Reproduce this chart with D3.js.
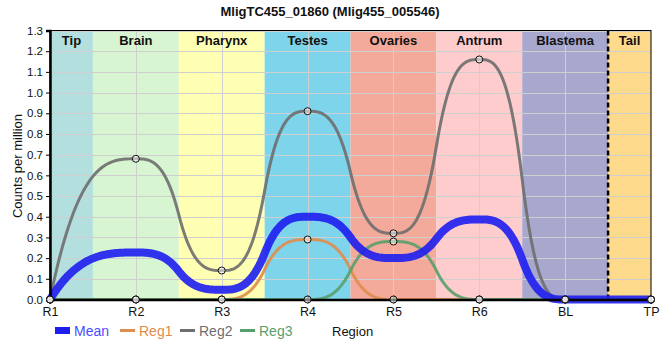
<!DOCTYPE html>
<html><head><meta charset="utf-8">
<script src="https://cdn.jsdelivr.net/npm/d3@7"></script>
<style>body{margin:0;background:#fff}svg{display:block;font-family:"Liberation Sans",Arial,sans-serif}</style>
</head><body><svg id="c" width="660" height="360"></svg>
<script>
const title = "MligTC455_01860 (Mlig455_005546)";
const categories = ["R1","R2","R3","R4","R5","R6","BL","TP"];
const meanValues = [0, 0.227, 0.047, 0.40, 0.20, 0.387, 0, 0];
const reg1Values = [0, 0, 0, 0.29, 0, 0, 0, 0];
const reg2Values = [0, 0.68, 0.14, 0.91, 0.32, 1.16, 0, 0];
const reg3Values = [0, 0, 0, 0, 0.28, 0, 0, 0];
const yTicks = [0,0.1,0.2,0.3,0.4,0.5,0.6,0.7,0.8,0.9,1.0,1.1,1.2,1.3];
const bandNames = ["Tip","Brain","Pharynx","Testes","Ovaries","Antrum","Blastema","Tail"];
const bandStarts = [0, 0.5, 1.5, 2.5, 3.5, 4.5, 5.5, 6.5];
const bandEnds = [0.5, 1.5, 2.5, 3.5, 4.5, 5.5, 6.5, 7];
const bandColors = ["#b3e0de","#d7f5d0","#ffffb4","#7dd4eb","#f4aa9b","#fecccd","#a8a8ce","#feda8c"];
const seriesNames = ["Reg1","Reg2","Reg3"];
const seriesColors = ["#e08c4c","#6e6e6e","#5a9e6c"];
const meanColor = "#1e1ef0";

// custom d3 curve: eased (cubic in-out) transitions between successive points
function EaseCurve(context) { this._context = context; }
EaseCurve.prototype = {
  areaStart() { this._line = 0; }, areaEnd() { this._line = NaN; },
  lineStart() { this._xs = []; this._ys = []; },
  point(x, y) { this._xs.push(+x); this._ys.push(+y); },
  lineEnd() {
    const xs = this._xs, ys = this._ys, n = xs.length, c = this._context;
    if (!n) return;
    c.moveTo(xs[0], ys[0]);
    const steps = 48;
    for (let i = 0; i < n - 1; i++) {
      const ease = (i === 0 && n > 2) ? d3.easeCubicOut : (i === n - 2 && n > 2) ? d3.easeCubicIn : d3.easeCubicInOut;
      for (let k = 1; k <= steps; k++) {
        const t = k / steps;
        c.lineTo(xs[i] + (xs[i+1] - xs[i]) * t, ys[i] + (ys[i+1] - ys[i]) * ease(t));
      }
    }
  }
};
const curveEase = ctx => new EaseCurve(ctx);

const svg = d3.select("#c");
const L = 50, R = 651, T = 30.5, B = 299.5;
const x = d3.scaleLinear().domain([0, 7]).range([L, R]);
const y = d3.scaleLinear().domain([0, 1.3]).range([B, T]);

// bands
svg.append("g").selectAll("rect").data(bandNames).join("rect")
  .attr("x", (d,i) => x(bandStarts[i])).attr("y", T)
  .attr("width", (d,i) => x(bandEnds[i]) - x(bandStarts[i])).attr("height", B - T)
  .attr("fill", (d,i) => bandColors[i]);

// grid
const grid = svg.append("g").attr("stroke", "#cfcfcf").attr("stroke-width", 1);
grid.selectAll("line.h").data(yTicks.slice(1)).join("line").attr("class","h")
  .attr("x1", L).attr("x2", R).attr("y1", d => Math.round(y(d)) + 0.5).attr("y2", d => Math.round(y(d)) + 0.5);
grid.selectAll("line.v").data(categories.slice(1, -1)).join("line").attr("class","v")
  .attr("y1", T).attr("y2", B).attr("x1", (d,i) => Math.round(x(i+1)) + 0.5).attr("x2", (d,i) => Math.round(x(i+1)) + 0.5);

// band labels
svg.append("g").selectAll("text").data(bandNames).join("text")
  .attr("x", (d,i) => (x(bandStarts[i]) + x(bandEnds[i])) / 2).attr("y", 45)
  .attr("text-anchor", "middle").attr("font-size", 13).attr("font-weight", "bold").attr("fill", "#111")
  .text(d => d);

// dashed separator
svg.append("line").attr("x1", x(6.5)).attr("x2", x(6.5)).attr("y1", T).attr("y2", B)
  .attr("stroke", "#000").attr("stroke-width", 2.5).attr("stroke-dasharray", "5,3");

// curves
const line = d3.line().x((d,i) => x(i)).y(d => y(d)).curve(curveEase);
const regs = [reg1Values, reg2Values, reg3Values];
regs.forEach((vals, k) => {
  svg.append("path").attr("d", line(vals)).attr("fill", "none")
    .attr("stroke", seriesColors[k]).attr("stroke-width", 3).attr("stroke-opacity", 0.9);
});
svg.append("path").attr("d", line(meanValues)).attr("fill", "none")
  .attr("stroke", meanColor).attr("stroke-width", 8).attr("stroke-opacity", 0.9);

// border
svg.append("rect").attr("x", L).attr("y", T).attr("width", R - L).attr("height", B - T)
  .attr("fill", "none").attr("stroke", "#000").attr("stroke-width", 1);

// axes
const yAxis = d3.axisLeft(y).tickValues(yTicks).tickFormat(d3.format(".1f")).tickSize(4).tickPadding(3);
const gy = svg.append("g").attr("transform", `translate(${L},0)`).call(yAxis);
gy.select(".domain").attr("stroke-width", 2.5);
gy.selectAll("text").attr("font-size", 11.5).attr("fill", "#111").style("font-family", "Liberation Sans, Arial");

const xAxis = d3.axisBottom(x).tickValues(d3.range(categories.length)).tickFormat(i => categories[i]).tickSize(4).tickPadding(4);
const gx = svg.append("g").attr("transform", `translate(0,${B})`).call(xAxis);
gx.select(".domain").attr("stroke-width", 2.5);
gx.selectAll(".tick line").attr("y1", -4);
gx.selectAll("text").attr("font-size", 12.5).attr("fill", "#111").style("font-family", "Liberation Sans, Arial");

// points
regs.forEach((vals, k) => {
  svg.append("g").selectAll("circle").data(vals).join("circle")
    .attr("cx", (d,i) => x(i)).attr("cy", d => y(d)).attr("r", 3.5)
    .attr("fill", "#fff").attr("fill-opacity", 0.5).attr("stroke", "#111").attr("stroke-width", 1);
});

// title
svg.append("text").attr("x", 330).attr("y", 16).attr("text-anchor", "middle")
  .attr("font-size", 13).attr("font-weight", "bold").attr("fill", "#111").text(title);

// y label
svg.append("text").attr("transform", "translate(22,166) rotate(-90)").attr("text-anchor", "middle")
  .attr("font-size", 13).attr("fill", "#111").text("Counts per million");

// legend
const lg = svg.append("g");
lg.append("rect").attr("x", 55).attr("y", 327).attr("width", 15).attr("height", 7).attr("fill", meanColor);
lg.append("text").attr("x", 74).attr("y", 335.5).attr("font-size", 14).attr("fill", "#4d4dff").text("Mean");
const legX = [120, 180, 240];
seriesNames.forEach((n, k) => {
  lg.append("line").attr("x1", legX[k]).attr("x2", legX[k] + 15).attr("y1", 330.5).attr("y2", 330.5)
    .attr("stroke", seriesColors[k]).attr("stroke-width", 3);
  lg.append("text").attr("x", legX[k] + 19).attr("y", 335.5).attr("font-size", 14).attr("fill", seriesColors[k]).text(n);
});
svg.append("text").attr("x", 332).attr("y", 336).attr("font-size", 13).attr("fill", "#111").text("Region");
</script></body></html>
